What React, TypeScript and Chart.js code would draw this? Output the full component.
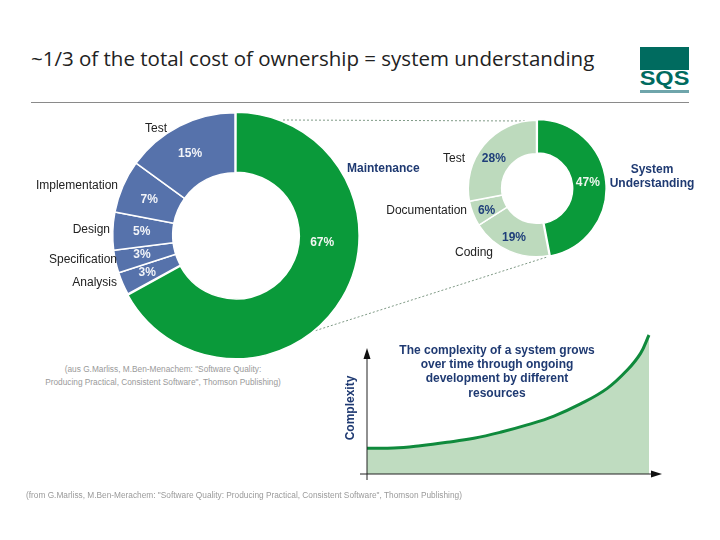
import { useEffect, useRef } from "react";
import type { CSSProperties } from "react";
import { Chart, registerables } from "chart.js";
import type { Plugin } from "chart.js";

Chart.register(...registerables);

const phaseNames = ["Maintenance", "Analysis", "Specification", "Design", "Implementation", "Test"];
const phaseShares = [67, 3, 3, 5, 7, 15];
const phaseColors = ["#0a9a3a", "#5672ab", "#5672ab", "#5672ab", "#5672ab", "#5672ab"];
const phaseLabelColors = ["#f2f7f2", "#f2f4f8", "#f2f4f8", "#f2f4f8", "#f2f4f8", "#f2f4f8"];
const phaseLabelNudge = [[6, -40], [-3, 1], [-3, 0], [-1, 0], [-1, 1], [-3, 1]];

const upkeepNames = ["System Understanding", "Coding", "Documentation", "Test"];
const upkeepShares = [47, 19, 6, 28];
const upkeepColors = ["#0a9a3a", "#bddabd", "#bddabd", "#bddabd"];
const upkeepLabelColors = ["#eef6ee", "#1f3f7a", "#1f3f7a", "#1f3f7a"];
const upkeepLabelNudge = [[-1.5, -1], [-2, 2], [-2, 3], [-3, 3]];

const timeSteps = [0, 9.5, 18.9, 28.4, 37.9, 47.3, 56.8, 66.3, 75.7, 85.2, 92.3, 97, 100];
const complexity = [18.5, 18.7, 20.4, 22.8, 25.7, 30, 35.3, 41.7, 50.4, 61.6, 74.8, 86.8, 100];

const navy = "#1f3a72";
const sans = '"Liberation Sans", Arial, sans-serif';

// percentages sit on the middle of each arc, then get nudged to where the slide has them
const percentLabels: Plugin<"doughnut"> = {
  id: "percentLabels",
  afterDatasetsDraw(chart) {
    const ds = chart.data.datasets[0];
    const opts = chart.options as any;
    const ctx = chart.ctx;
    ctx.save();
    ctx.font = `bold 12px ${sans}`;
    ctx.textAlign = "center";
    ctx.textBaseline = "middle";
    chart.getDatasetMeta(0).data.forEach((arc, i) => {
      const p = (arc as any).getCenterPoint();
      ctx.fillStyle = opts.labelColors[i];
      ctx.fillText(ds.data[i] + "%", p.x + opts.labelNudge[i][0], p.y + opts.labelNudge[i][1]);
    });
    ctx.restore();
  },
};

// axes with arrow heads, hung on the scale positions
const arrowAxes: Plugin<"line"> = {
  id: "arrowAxes",
  afterDraw(chart) {
    const { ctx } = chart;
    const x0 = chart.scales.x.getPixelForValue(0);
    const y0 = chart.scales.y.getPixelForValue(0);
    const right = chart.chartArea.right + 13;
    const top = chart.chartArea.top + 13;
    ctx.save();
    ctx.strokeStyle = "#222";
    ctx.fillStyle = "#111";
    ctx.lineWidth = 1;
    ctx.beginPath();
    ctx.moveTo(x0 - 7, y0);
    ctx.lineTo(right - 8, y0);
    ctx.moveTo(x0, y0 + 6);
    ctx.lineTo(x0, top + 8);
    ctx.stroke();
    ctx.beginPath();
    ctx.moveTo(right, y0);
    ctx.lineTo(right - 11, y0 - 3.5);
    ctx.lineTo(right - 11, y0 + 3.5);
    ctx.fill();
    ctx.beginPath();
    ctx.moveTo(x0, top);
    ctx.lineTo(x0 - 3.5, top + 11);
    ctx.lineTo(x0 + 3.5, top + 11);
    ctx.fill();
    ctx.restore();
  },
};

function Donut(props: {
  names: string[];
  shares: number[];
  colors: string[];
  labelColors: string[];
  labelNudge: number[][];
  offset: number;
  style: CSSProperties;
  size: number;
  label: string;
}) {
  const ref = useRef<HTMLCanvasElement>(null);

  useEffect(() => {
    if (!ref.current) return;
    const chart = new Chart(ref.current, {
      type: "doughnut",
      data: {
        labels: props.names,
        datasets: [
          {
            data: props.shares,
            backgroundColor: props.colors,
            borderColor: "#fff",
            borderWidth: 1.5,
            offset: props.shares.map((_, i) => (i === 0 ? props.offset : 0)),
          },
        ],
      },
      options: {
        responsive: false,
        animation: false,
        cutout: "51%",
        labelColors: props.labelColors,
        labelNudge: props.labelNudge,
        plugins: { legend: { display: false }, tooltip: { enabled: false } },
      } as any,
      plugins: [percentLabels],
    });
    return () => chart.destroy();
  }, []);

  return <canvas ref={ref} width={props.size} height={props.size} style={props.style} role="img" aria-label={props.label} />;
}

function GrowthChart() {
  const ref = useRef<HTMLCanvasElement>(null);

  useEffect(() => {
    if (!ref.current) return;
    const chart = new Chart(ref.current, {
      type: "line",
      data: {
        labels: timeSteps,
        datasets: [
          {
            data: timeSteps.map((t, i) => ({ x: t, y: complexity[i] })),
            borderColor: "#0f8a3c",
            borderWidth: 3,
            backgroundColor: "#bfdcc0",
            fill: "origin",
            pointRadius: 0,
            tension: 0.4,
            clip: false,
          },
        ],
      },
      options: {
        responsive: false,
        animation: false,
        layout: { padding: { left: 17, right: 21, top: 5, bottom: 16 } },
        scales: {
          x: { type: "linear", display: false, min: 0, max: 100 },
          y: { display: false, min: 0, max: 100 },
        },
        plugins: { legend: { display: false }, tooltip: { enabled: false } },
      },
      plugins: [arrowAxes],
    });
    return () => chart.destroy();
  }, []);

  return (
    <canvas
      ref={ref}
      width={320}
      height={160}
      style={{ position: "absolute", left: 350, top: 330 }}
      role="img"
      aria-label="Complexity over time"
    />
  );
}

function Label(props: { x: number; y: number; w: number; text: string; align?: "left" | "right" | "center"; bold?: boolean; color?: string; size?: number }) {
  const style: CSSProperties = {
    position: "absolute",
    left: props.x,
    top: props.y - 8,
    width: props.w,
    height: 16,
    lineHeight: "16px",
    textAlign: props.align ?? "left",
    fontFamily: sans,
    fontSize: props.size ?? 12,
    fontWeight: props.bold ? "bold" : "normal",
    color: props.color ?? "#222",
    whiteSpace: "nowrap",
  };
  return <div style={style}>{props.text}</div>;
}

export default function App() {
  return (
    <div style={{ position: "absolute", left: 0, top: 0, width: 720, height: 540, background: "#fff", overflow: "hidden" }}>
      <div
        style={{
          position: "absolute",
          left: 31,
          top: 44,
          fontFamily: '"Open Sans", sans-serif',
          fontSize: 20.5,
          lineHeight: "28px",
          color: "#222",
          whiteSpace: "nowrap",
        }}
      >
        ~1/3 of the total cost of ownership = system understanding
      </div>
      <div style={{ position: "absolute", left: 31, top: 102, width: 658, height: 1, background: "#8a8a8a" }} />

      {/* logo */}
      <div style={{ position: "absolute", left: 640, top: 47, width: 49, height: 23, background: "#006b5f" }} />
      <div
        style={{
          position: "absolute",
          left: 640,
          top: 66,
          width: 49,
          textAlign: "center",
          fontFamily: sans,
          fontWeight: "bold",
          fontSize: 21,
          lineHeight: "24px",
          color: "#006b5f",
          transform: "scaleX(1.12)",
        }}
      >
        SQS
      </div>
      <div style={{ position: "absolute", left: 640, top: 90, width: 49, height: 3, background: "#6fa5ab" }} />

      {/* leader lines between the two rings */}
      <svg width={720} height={540} style={{ position: "absolute", left: 0, top: 0 }}>
        <line x1={283} y1={120} x2={527} y2={121} stroke="#7f9a86" strokeWidth={1} strokeDasharray="2 2" />
        <line x1={308} y1={333} x2={547} y2={257} stroke="#7f9a86" strokeWidth={1} strokeDasharray="2 2" />
      </svg>

      <Donut
        names={phaseNames}
        shares={phaseShares}
        colors={phaseColors}
        labelColors={phaseLabelColors}
        labelNudge={phaseLabelNudge}
        offset={4}
        size={250}
        label="Cost share by phase"
        style={{ position: "absolute", left: 110, top: 110 }}
      />
      <Donut
        names={upkeepNames}
        shares={upkeepShares}
        colors={upkeepColors}
        labelColors={upkeepLabelColors}
        labelNudge={upkeepLabelNudge}
        offset={3}
        size={141}
        label="Maintenance cost share"
        style={{ position: "absolute", left: 466, top: 118 }}
      />
      <GrowthChart />

      <Label x={145} y={128} w={30} text="Test" />
      <Label x={18} y={185} w={100} align="right" text="Implementation" />
      <Label x={30} y={229} w={80} align="right" text="Design" />
      <Label x={17} y={259} w={100} align="right" text="Specification" />
      <Label x={37} y={282} w={80} align="right" text="Analysis" />
      <Label x={347} y={168} w={80} bold color={navy} text="Maintenance" />

      <Label x={425} y={158} w={40} align="right" text="Test" />
      <Label x={367} y={210} w={100} align="right" text="Documentation" />
      <Label x={455} y={252} w={50} text="Coding" />
      <Label x={602} y={169} w={100} align="center" bold color={navy} text="System" />
      <Label x={602} y={183} w={100} align="center" bold color={navy} text="Understanding" />

      <Label x={377} y={350} w={240} align="center" bold color={navy} text="The complexity of a system grows" />
      <Label x={377} y={364} w={240} align="center" bold color={navy} text="over time through ongoing" />
      <Label x={377} y={378} w={240} align="center" bold color={navy} text="development by different" />
      <Label x={377} y={393} w={240} align="center" bold color={navy} text="resources" />

      <div
        style={{
          position: "absolute",
          left: 310,
          top: 400,
          width: 80,
          height: 16,
          lineHeight: "16px",
          textAlign: "center",
          fontFamily: sans,
          fontSize: 12,
          fontWeight: "bold",
          color: navy,
          transform: "rotate(-90deg)",
        }}
      >
        Complexity
      </div>

      <Label x={63} y={369} w={200} align="center" size={8.3} color="#9a9a9a" text={'(aus G.Marliss, M.Ben-Menachem: "Software Quality:'} />
      <Label x={43} y={382} w={240} align="center" size={8.3} color="#9a9a9a" text={'Producing Practical, Consistent Software", Thomson Publishing)'} />
      <Label x={26} y={495} w={440} size={8.3} color="#9a9a9a" text={'(from G.Marliss, M.Ben-Merachem: "Software Quality: Producing Practical, Consistent Software", Thomson Publishing)'} />
    </div>
  );
}
